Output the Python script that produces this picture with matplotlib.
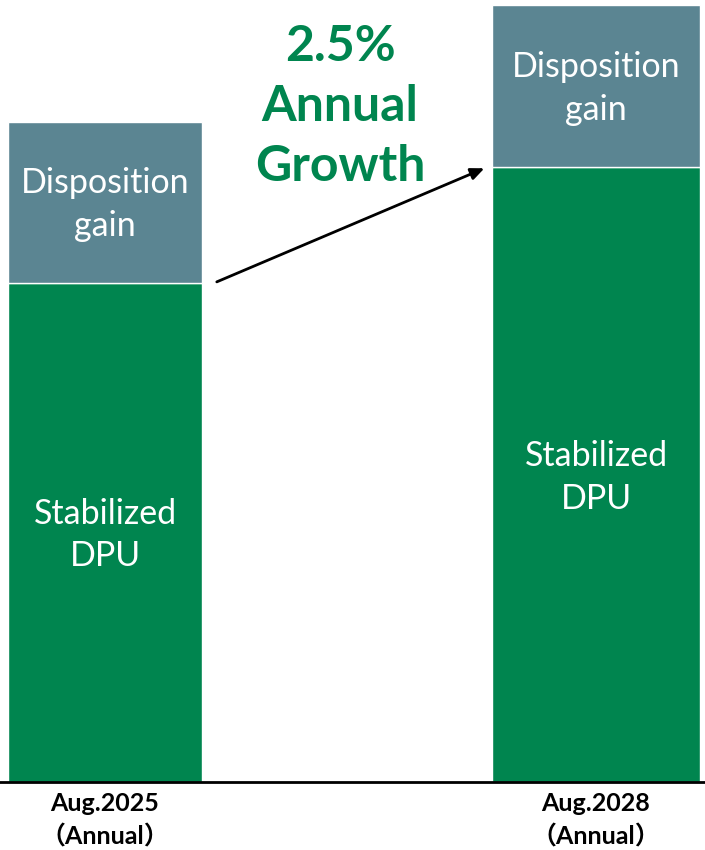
import matplotlib.pyplot as plt
import numpy as np

# data (normalized, left stabilized DPU = 100)
periods = ['Aug.2025\n（Annual）', 'Aug.2028\n（Annual）']
stabilized = [100.0, 123.2]
disposition = [32.3, 32.4]
growth_text = '2.5%\nAnnual\nGrowth'

green = '#00854F'
teal = '#5B8592'
fonts = ['Lato', 'Noto Sans CJK JP', 'DejaVu Sans']
plt.rcParams['font.family'] = fonts

fig = plt.figure(figsize=(7.05, 8.5), dpi=100)
ax = fig.add_axes([0, 68 / 850, 1, 782 / 850])

x = np.arange(len(periods))
widths = [0.395, 0.424]
ax.bar(x, stabilized, width=widths, color=green, edgecolor='white', linewidth=1)
ax.bar(x, disposition, bottom=stabilized, width=widths, color=teal,
       edgecolor='white', linewidth=1)

ax.set_xlim(-0.2138, 1.222)
ax.set_ylim(0, 156.7)

for i in x:
    ax.text(i, stabilized[i] + disposition[i] / 2 - 0.4, 'Disposition\ngain', ha='center',
            va='center', color='white', fontsize=24.5, linespacing=1.42)
ax.text(0, 49.5, 'Stabilized\nDPU', ha='center', va='center', color='white',
        fontsize=24.5, linespacing=1.42)
ax.text(1, 61, 'Stabilized\nDPU', ha='center', va='center', color='white',
        fontsize=24.5, linespacing=1.42)

ax.text(0.479, 135.4, growth_text, ha='center', va='center', color=green,
        fontsize=36, fontweight='bold', linespacing=1.4)

ax.annotate('', xy=(1 - widths[1] / 2 - 0.01, stabilized[1]),
            xytext=(widths[0] / 2 + 0.025, stabilized[0]),
            arrowprops=dict(arrowstyle='-|>,head_length=0.8,head_width=0.35',
                            color='black', lw=2))

ax.set_xticks(x)
ax.set_xticklabels(periods, fontsize=18, fontweight='bold', linespacing=1.5)
ax.tick_params(axis='x', length=0, pad=7)
ax.set_yticks([])
for s in ['left', 'right', 'top']:
    ax.spines[s].set_visible(False)
ax.spines['bottom'].set_linewidth(2)

fig.savefig('out.png', dpi=100)
